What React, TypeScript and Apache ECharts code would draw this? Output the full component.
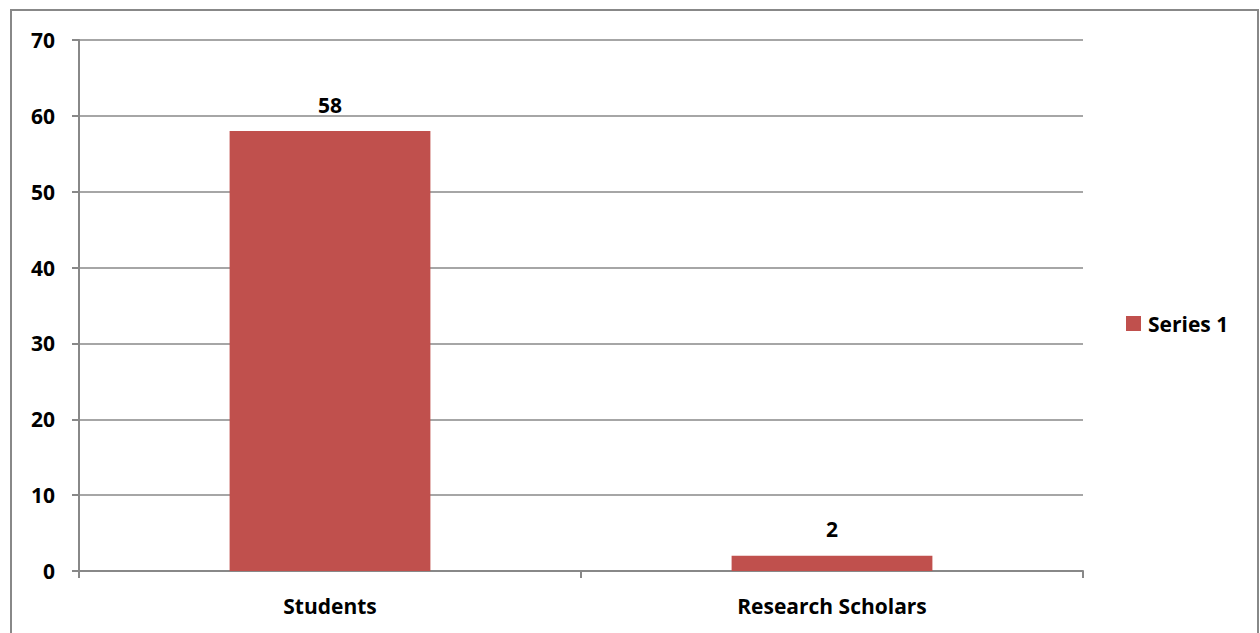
import React, { useEffect, useRef } from "react";
import * as echarts from "echarts";

const categories = ["Students", "Research Scholars"];
const seriesName = "Series 1";
const values = [58, 2];

export default function App() {
  const ref = useRef<HTMLDivElement>(null);
  useEffect(() => {
    document.body.style.margin = "0";
    const chart = echarts.init(ref.current!, null, { renderer: "svg" });
    const font = "'Open Sans', Lato, sans-serif";
    const fs = 21;
    chart.setOption({
      animation: false,
      backgroundColor: "#ffffff",
      textStyle: { fontFamily: font },
      graphic: [
        {
          type: "rect",
          shape: { x: 11, y: 10, width: 1247, height: 640 },
          style: { fill: "none", stroke: "#888888", lineWidth: 2 },
          silent: true,
        },
      ],
      grid: { left: 79, top: 40, width: 1004, height: 531, containLabel: false },
      legend: {
        data: [seriesName],
        left: 1126,
        top: 313,
        padding: 0,
        orient: "vertical",
        itemWidth: 15,
        itemHeight: 15,
        icon: "rect",
        textStyle: { fontSize: fs, fontWeight: "bold", color: "#000", fontFamily: font, padding: [0, 0, 0, 2] },
      },
      xAxis: {
        type: "category",
        data: categories,
        axisLine: { lineStyle: { color: "#888888", width: 2 } },
        axisTick: { show: true, alignWithLabel: false, length: 7, lineStyle: { color: "#888888", width: 2 } },
        axisLabel: { margin: 24, fontSize: fs, fontWeight: "bold", color: "#000", fontFamily: font },
      },
      yAxis: {
        type: "value",
        min: 0,
        max: 70,
        interval: 10,
        axisLine: { show: true, lineStyle: { color: "#888888", width: 2 } },
        axisTick: { show: true, length: 7, lineStyle: { color: "#888888", width: 2 } },
        splitLine: { lineStyle: { color: "#888888", width: 1.5 } },
        axisLabel: { margin: 24, fontSize: fs, fontWeight: "bold", color: "#000", fontFamily: font },
      },
      series: [
        {
          name: seriesName,
          type: "bar",
          data: values,
          barWidth: "40%",
          itemStyle: { color: "#C0504D" },
          label: {
            show: true,
            position: "top",
            distance: 16,
            fontSize: fs,
            fontWeight: "bold",
            color: "#000",
            fontFamily: font,
          },
        },
      ],
    });
    return () => chart.dispose();
  }, []);
  return <div ref={ref} style={{ width: 1260, height: 633 }} />;
}
